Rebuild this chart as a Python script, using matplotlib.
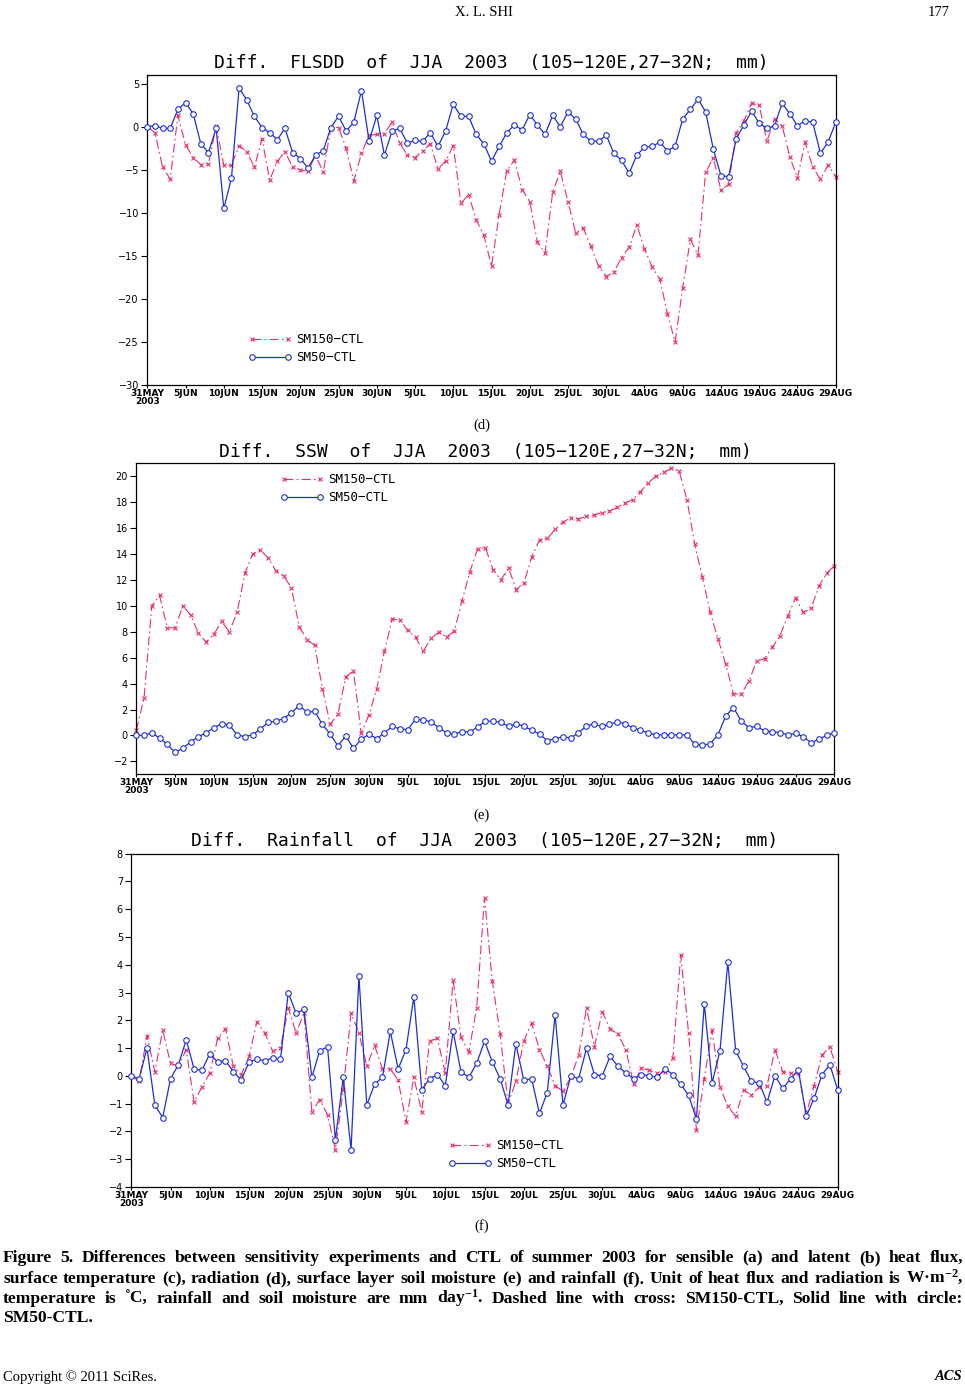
import matplotlib
matplotlib.use('Agg')
import matplotlib.pyplot as plt
import numpy as np

plt.rcParams['font.family'] = ['DejaVu Sans']
plt.rcParams['mathtext.fontset'] = 'custom'
plt.rcParams['mathtext.rm'] = 'Liberation Serif:bold'
plt.rcParams['mathtext.it'] = 'Liberation Serif:italic:bold'
plt.rcParams['mathtext.bf'] = 'Liberation Serif:bold'
plt.rcParams['axes.unicode_minus'] = True

# ---------------- data ----------------
tick_labels = ['31MAY\n2003', '5JUN', '10JUN', '15JUN', '20JUN', '25JUN', '30JUN',
               '5JUL', '10JUL', '15JUL', '20JUL', '25JUL', '30JUL', '4AUG', '9AUG',
               '14AUG', '19AUG', '24AUG', '29AUG']
series_names = ['SM150\u2212CTL', 'SM50\u2212CTL']

flsdd_sm150 = [0, -0.7, -4.7, -6.1, 1.3, -2.1, -3.6, -4.4, -4.3, 0.1, -4.5, -4.5, -2.2, -2.9,
               -4.7, -1.4, -6.2, -4.0, -2.9, -4.7, -5.0, -5.2, -3.3, -5.3, -0.1, -0.1, -2.5,
               -6.3, -3.1, -1.0, -0.9, -0.8, 0.5, -1.9, -3.3, -3.6, -2.8, -2.0, -4.9, -4.0,
               -2.2, -8.9, -7.9, -10.8, -12.6, -16.2,
               -10.2, -5.1, -3.9, -7.3, -8.7, -13.4, -14.7, -7.6, -5.2, -8.7, -12.3, -11.8,
               -13.9, -16.2, -17.4, -16.9, -15.2, -14.0, -11.4, -14.2, -16.3, -17.7, -21.7,
               -25.0, -18.7, -13.1, -14.9, -5.3, -3.6, -7.4, -6.7, -0.7, 0.7, 2.7, 2.5, -1.7,
               0.9, 0.1, -3.5, -6.0, -1.8, -4.7, -6.1, -4.5, -5.8]
flsdd_sm50 = [0, 0.1, -0.2, -0.2, 2.0, 2.8, 1.5, -2.0, -3.0, -0.2, -9.5, -6.0, 4.5, 3.1, 1.2,
              -0.1, -0.7, -1.5, -0.2, -3.0, -3.7, -4.8, -3.3, -2.8, -0.1, 1.2, -0.5, 0.5, 4.2,
              -1.7, 1.3, -3.3, -0.5, -0.2, -1.9, -1.6, -1.7, -0.7, -2.3, -0.5, 2.6, 1.2, 1.2,
              -0.9, -2.0, -4.0,
              -2.3, -0.7, 0.2, -0.4, 1.4, 0.2, -0.9, 1.3, 0.0, 1.7, 0.9, -0.9, -1.7, -1.7,
              -1.0, -3.1, -3.9, -5.4, -3.3, -2.4, -2.3, -1.8, -2.8, -2.3, 0.9, 2.0, 3.2, 1.7,
              -2.6, -5.7, -5.8, -1.4, 0.2, 1.8, 0.4, -0.2, 0.1, 2.7, 1.5, 0.1, 0.7, 0.5,
              -3.1, -1.8, 0.5]

ssw_sm150 = [0.4, 2.9, 10.0, 10.8, 8.3, 8.3, 10.0, 9.3, 7.9, 7.2, 7.8, 8.8, 8.0, 9.5, 12.5,
             14.0, 14.3, 13.7, 12.7, 12.3, 11.4, 8.4, 7.4, 6.95, 3.6, 0.85, 1.65, 4.5, 5.0,
             0.15, 1.6, 3.6, 6.5, 9.0, 8.9, 8.1, 7.6, 6.5, 7.5, 7.95, 7.6, 8.05, 10.4, 12.6,
             14.4, 14.5,
             12.8, 12.0, 12.9, 11.25, 11.8, 13.8, 15.1, 15.2, 15.9, 16.45, 16.8, 16.7, 16.9,
             17.0, 17.2, 17.3, 17.6, 17.9, 18.2, 18.8, 19.5, 20.0, 20.3, 20.6, 20.4, 18.2,
             14.75, 12.2, 9.5, 7.45, 5.5, 3.2, 3.2, 4.2, 5.75, 5.9, 6.8, 7.7, 9.2, 10.6, 9.5,
             9.8, 11.5, 12.5, 13.1]
ssw_sm50 = [0, 0, 0.2, -0.2, -0.7, -1.3, -1.0, -0.5, -0.1, 0.2, 0.6, 0.9, 0.8, 0.05, -0.1,
            0.05, 0.5, 1.0, 1.1, 1.3, 1.75, 2.3, 1.8, 1.85, 0.85, 0.1, -0.8, -0.05, -1.0, -0.3,
            0.1, -0.25, 0.2, 0.7, 0.5, 0.45, 1.25, 1.2, 1.05, 0.6, 0.2, 0.1, 0.3, 0.25, 0.65,
            1.1,
            1.1, 1.0, 0.7, 0.9, 0.7, 0.4, 0.1, -0.4, -0.25, -0.1, -0.2, 0.2, 0.7, 0.9, 0.7,
            0.85, 1.05, 0.9, 0.6, 0.4, 0.2, 0.05, 0.05, 0.05, 0.05, 0.05, -0.7, -0.75, -0.65,
            0.05, 1.5, 2.15, 1.1, 0.6, 0.7, 0.35, 0.3, 0.2, 0.05, 0.15, -0.1, -0.55, -0.3,
            0.0, 0.2]

rain_sm150 = [0, -0.2, 1.45, 0.15, 1.65, 0.45, 0.35, 0.95, -0.95, -0.4, 0.1, 1.35, 1.7, 0.35,
              0.05, 0.7, 1.95, 1.55, 0.9, 1.0, 2.45, 1.55, 2.25, -1.3, -0.85, -1.4, -2.65,
              -0.5, 2.25, 1.55, 0.35, 1.1, 0.25, 0.25, -0.15, -1.65, -0.05, -1.3, 1.25, 1.35,
              0.1, 3.45, 1.4, 0.85, 2.45, 6.4,
              3.4, 1.5, -1.0, -0.2, 1.25, 1.9, 0.95, 0.35, -0.35, -0.55, -0.05, 0.75, 2.45,
              1.05, 2.3, 1.7, 1.5, 0.95, -0.3, 0.3, 0.2, 0.1, 0.15, 0.65, 4.35, 1.55, -1.95,
              -0.1, 1.65, -0.4, -1.1, -1.45, -0.5, -0.7, -0.4, -0.35, 0.95, 0.15, 0.1, 0.1,
              -1.35, -0.35, 0.75, 1.05, 0.15]
rain_sm50 = [0, -0.1, 1.0, -1.05, -1.5, -0.1, 0.4, 1.3, 0.25, 0.2, 0.8, 0.5, 0.55, 0.15, -0.15,
             0.5, 0.6, 0.55, 0.65, 0.6, 3.0, 2.25, 2.4, -0.05, 0.9, 1.05, -2.3, -0.05, -2.65,
             3.6, -1.05, -0.3, -0.05, 1.6, 0.25, 0.95, 2.85, -0.5, -0.1, 0.05, -0.35, 1.6,
             0.15, -0.05, 0.45, 1.25,
             0.5, -0.1, -1.05, 1.15, -0.15, -0.1, -1.35, -0.6, 2.2, -1.05, 0.0, -0.1, 1.0,
             0.05, 0.0, 0.7, 0.35, 0.1, -0.1, 0.05, 0.0, -0.05, 0.25, 0.05, -0.3, -0.7, -1.55,
             2.6, -0.25, 0.9, 4.1, 0.9, 0.35, -0.2, -0.25, -0.95, 0.0, -0.45, -0.1, 0.2,
             -1.45, -0.8, 0.05, 0.4, -0.5]

titles = ['Diff.  FLSDD  of  JJA  2003  (105\u2212120E,27\u221232N;  mm)',
          'Diff.  SSW  of  JJA  2003  (105\u2212120E,27\u221232N;  mm)',
          'Diff.  Rainfall  of  JJA  2003  (105\u2212120E,27\u221232N;  mm)']
panel_tags = ['(d)', '(e)', '(f)']

# ---------------- figure ----------------
W, H = 965, 1386
fig = plt.figure(figsize=(W / 100, H / 100), dpi=100)
RED = '#e62e70'
BLUE = '#1f2fd0'
MONO = ['DejaVu Sans Mono', 'DejaVu Sans']


def px(x, y):
    return x / W, 1 - y / H


def make_panel(rect_px, s150, s50, ylim, yticks, title, title_xy, leg_anchor, tag_xy, tag):
    l, t, r, b = rect_px
    ax = fig.add_axes([l / W, 1 - b / H, (r - l) / W, (b - t) / H])
    n = len(s150)
    days = np.arange(n)
    h150, = ax.plot(days, s150, color=RED, lw=0.8, linestyle=(0, (8, 3, 1.5, 3)),
                    marker='x', ms=3.2, mew=0.8, zorder=2, clip_on=False)
    h50, = ax.plot(days, s50, color=BLUE, lw=0.9, linestyle='-',
                   marker='o', ms=4.0, mfc='white', mec=BLUE, mew=0.8, zorder=3, clip_on=False)
    ax.set_xlim(0, n - 1)
    ax.set_ylim(*ylim)
    ax.set_xticks(days[::5])
    ax.set_xticklabels(tick_labels, fontsize=6.5, fontweight='bold')
    for lbl in ax.get_xticklabels():
        lbl.set_linespacing(0.8)
    ax.set_yticks(yticks)
    ax.tick_params(axis='y', direction='out', length=4, width=0.8, pad=2, labelsize=7)
    ax.tick_params(axis='x', direction='out', length=2, width=0.8, pad=1)
    for sp in ax.spines.values():
        sp.set_linewidth(0.9)
    ax.legend(handles=[h150, h50], labels=series_names, loc='upper left',
              bbox_to_anchor=leg_anchor, frameon=False,
              prop={'family': MONO, 'size': 9},
              handlelength=3.5, handletextpad=0.35, borderpad=0, borderaxespad=0,
              labelspacing=0.4, numpoints=2)
    fig.text(*px(*title_xy), title, ha='center', va='center', fontsize=13, family=MONO)
    fig.text(*px(*tag_xy), tag, ha='center', va='center', fontsize=10.5,
             family=['Liberation Serif', 'DejaVu Serif'])
    return ax


ax_d = make_panel((147.3, 75, 835.7, 385), flsdd_sm150, flsdd_sm50, (-30, 6),
                  np.arange(-30, 5.1, 5), titles[0],
                  (491, 62.7), (0.146, 0.168), (482, 425), panel_tags[0])
ax_e = make_panel((136.3, 463.3, 834.3, 774.3), ssw_sm150, ssw_sm50, (-3, 21),
                  np.arange(-2, 20.1, 2), titles[1],
                  (485, 452), (0.206, 0.969), (482, 815), panel_tags[1])
ax_f = make_panel((131.3, 853.7, 837.7, 1187), rain_sm150, rain_sm50, (-4, 8),
                  np.arange(-4, 8.1, 1), titles[2],
                  (485, 841), (0.449, 0.143), (482, 1226), panel_tags[2])

# ---------------- page text ----------------
serif = ['Liberation Serif', 'DejaVu Serif']
fig.text(*px(484, 13), 'X. L. SHI', ha='center', va='center', fontsize=10.5, family=serif)
fig.text(*px(950, 13), '177', ha='right', va='center', fontsize=10.5, family=serif)
fig.text(*px(3, 1377), 'Copyright \u00a9 2011 SciRes.', ha='left', va='center',
         fontsize=10.5, family=serif)
fig.text(*px(962, 1377), 'ACS', ha='right', va='center', fontsize=10.5, family=serif,
         style='italic', fontweight='bold')

caption_lines = [
    'Figure 5. Differences between sensitivity experiments and CTL of summer 2003 for sensible (a) and latent (b) heat flux,',
    'surface temperature (c), radiation (d), surface layer soil moisture (e) and rainfall (f). Unit of heat flux and radiation is W\u00b7m$^{\u22122}$,',
    'temperature is \u02daC, rainfall and soil moisture are mm day$^{\u22121}$. Dashed line with cross: SM150-CTL, Solid line with circle:',
    'SM50-CTL.',
]
caption_y = [1262, 1283, 1303, 1322]
cap_size = 12.6
renderer = fig.canvas.get_renderer()


def place_line(text, y, x0, x1, justify):
    words = text.split(' ')
    objs = [fig.text(0, 1 - y / H, w, ha='left', va='baseline', fontsize=cap_size,
                     family=serif, fontweight='bold') for w in words]
    widths = [o.get_window_extent(renderer).width for o in objs]
    space = cap_size * 0.25 * 100 / 72
    if justify and len(words) > 1:
        gap = (x1 - x0 - sum(widths)) / (len(words) - 1)
        gap = max(gap, space * 0.6)
    else:
        gap = space
    x = x0
    for o, w in zip(objs, widths):
        o.set_x(x / W)
        x += w + gap


for i, (line, y) in enumerate(zip(caption_lines, caption_y)):
    place_line(line, y, 3, 963, justify=(i < len(caption_lines) - 1))

fig.savefig('out.png', dpi=100)
